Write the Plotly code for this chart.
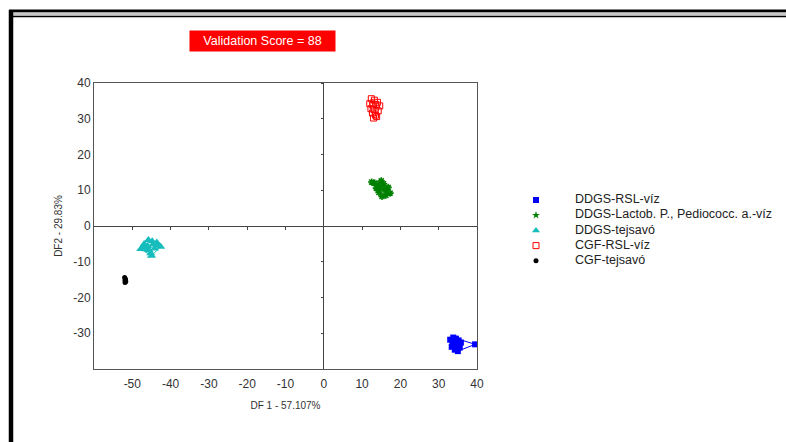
import plotly.graph_objects as go

# Discriminant scores per group
names = ["DDGS-RSL-víz", "DDGS-Lactob. P., Pediococc. a.-víz", "DDGS-tejsavó",
         "CGF-RSL-víz", "CGF-tejsavó"]

ddgs_rsl_x = [33.0, 33.8, 34.5, 35.2, 35.8, 34.0, 33.4, 34.9, 35.5, 34.2, 33.6, 35.0, 34.6, 39.5]
ddgs_rsl_y = [-31.8, -31.2, -31.5, -32.0, -32.6, -33.2, -33.8, -33.5, -34.0, -34.6, -32.5, -35.0, -32.9, -33.1]

ddgs_lact_x = [12.5, 13.3, 14.2, 15.0, 15.6, 14.6, 15.8, 16.5, 17.3, 16.2, 15.2, 14.4, 13.7, 16.8]
ddgs_lact_y = [12.3, 12.0, 11.4, 12.6, 11.8, 10.9, 10.3, 9.6, 9.2, 8.6, 8.3, 9.4, 10.6, 10.8]

ddgs_tej_x = [-47.8, -46.9, -45.8, -44.8, -43.6, -42.6, -47.2, -46.0, -44.6, -43.2, -45.6, -45.2, -45.0, -46.4, -44.2]
ddgs_tej_y = [-6.4, -5.0, -3.9, -4.3, -4.6, -5.8, -6.0, -5.6, -5.2, -5.4, -6.8, -7.6, -8.3, -6.5, -6.3]

cgf_rsl_x = [12.4, 13.2, 14.0, 12.0, 12.8, 13.6, 14.6, 12.3, 13.1, 14.2, 12.7, 13.5, 13.0, 13.8]
cgf_rsl_y = [35.6, 35.2, 34.6, 34.2, 33.8, 34.0, 33.6, 32.8, 32.6, 32.2, 31.6, 31.0, 30.2, 30.6]

cgf_tej_x = [-52.0, -51.8, -51.9, -51.7, -51.9, -51.8]
cgf_tej_y = [-14.4, -14.8, -15.2, -15.5, -15.8, -15.1]

x_ticks = [-50, -40, -30, -20, -10, 0, 10, 20, 30, 40]
y_ticks = [-30, -20, -10, 0, 10, 20, 30, 40]
x_tick_text = [str(v) for v in x_ticks]
y_tick_text = [str(v) for v in y_ticks]

groups = [
    (ddgs_rsl_x, ddgs_rsl_y, "#0000ff", dict(symbol="square", size=6, color="#0000ff")),
    (ddgs_lact_x, ddgs_lact_y, "#008000", dict(symbol="asterisk-open", size=6, color="#008000",
                                              line=dict(width=1.6, color="#008000"))),
    (ddgs_tej_x, ddgs_tej_y, "#17bdbd", dict(symbol="triangle-up", size=8, color="#17bdbd")),
    (cgf_rsl_x, cgf_rsl_y, "#ff0000", dict(symbol="square-open", size=6, color="#ff0000",
                                          line=dict(width=1, color="#ff0000"))),
    (cgf_tej_x, cgf_tej_y, "#000000", dict(symbol="circle", size=5, color="#000000")),
]
legend_markers = [
    dict(symbol="square", size=6, color="#0000ff"),
    dict(symbol="star", size=6, color="#008000"),
    dict(symbol="triangle-up", size=7, color="#17bdbd"),
    dict(symbol="square-open", size=6, color="#ff0000", line=dict(width=1, color="#ff0000")),
    dict(symbol="circle", size=5, color="#000000"),
]
legend_rows = [0, 1, 2, 3, 4]


def hull(xs, ys):
    """Convex hull (monotone chain), returned closed."""
    pts = sorted(set(zip(xs, ys)))
    if len(pts) < 3:
        return pts

    def cross(o, a, b):
        return (a[0] - o[0]) * (b[1] - o[1]) - (a[1] - o[1]) * (b[0] - o[0])

    lower, upper = [], []
    for p in pts:
        while len(lower) >= 2 and cross(lower[-2], lower[-1], p) <= 0:
            lower.pop()
        lower.append(p)
    for p in reversed(pts):
        while len(upper) >= 2 and cross(upper[-2], upper[-1], p) <= 0:
            upper.pop()
        upper.append(p)
    h = lower[:-1] + upper[:-1]
    return h + [h[0]]


# page geometry (pixels): plot box left 94, right 477, top 83, bottom 369
W, H = 786, 442
L, T, B = 94, 83, 369
R_BOX = 477
PW, PH = W - L, B - T          # paper area spans to the right page edge


def px(x):
    return (x - L) / PW


def py(y):
    return (B - y) / PH


fig = go.Figure()

# group outlines on the overlay axes (same ranges as the main axes)
for xs, ys, col, _ in groups:
    h = hull(xs, ys)
    fig.add_trace(go.Scatter(x=[p[0] for p in h], y=[p[1] for p in h], mode="lines",
                             line=dict(color=col, width=1), showlegend=False,
                             hoverinfo="skip", xaxis="x2", yaxis="y2"))

for (xs, ys, col, mk), nm in zip(groups, names):
    fig.add_trace(go.Scatter(x=xs, y=ys, mode="markers", name=nm, marker=mk, showlegend=False))

# key: one symbol and one label per row on its own axes (clipped at the page edge)
for row, mk in zip(legend_rows, legend_markers):
    fig.add_trace(go.Scatter(x=[0], y=[row], mode="markers", marker=mk, showlegend=False,
                             hoverinfo="skip", xaxis="x3", yaxis="y3"))
fig.add_trace(go.Scatter(x=[39] * len(names), y=legend_rows, mode="text", text=names,
                         textposition="middle right", cliponaxis=True, showlegend=False,
                         hoverinfo="skip", xaxis="x3", yaxis="y3",
                         textfont=dict(family="Liberation Sans, Arial, sans-serif", size=12.5,
                                       color="#222222")))

frame_shapes = [
    # window frame
    dict(type="line", xref="paper", yref="paper", x0=px(9), x1=px(790), y0=py(11), y1=py(11),
         line=dict(color="#000000", width=3)),
    dict(type="line", xref="paper", yref="paper", x0=px(12), x1=px(790), y0=py(14), y1=py(14),
         line=dict(color="#c8c8c8", width=3)),
    dict(type="line", xref="paper", yref="paper", x0=px(12), x1=px(790), y0=py(16.5), y1=py(16.5),
         line=dict(color="#000000", width=1.5)),
    dict(type="line", xref="paper", yref="paper", x0=px(11), x1=px(11), y0=py(10), y1=py(450),
         line=dict(color="#000000", width=4.5)),
]

base_font = dict(family="Liberation Sans, Arial, sans-serif", size=12, color="#333333")
box_dom = [0, px(R_BOX)]
x_zero_pos = px(L + (0 - (-60)) / 100 * (R_BOX - L))

annotations = [dict(text="Validation Score = 88", xref="paper", yref="paper",
                    x=px(262), y=py(40.5), xanchor="center", yanchor="middle", showarrow=False,
                    bgcolor="#ff0000",
                    font=dict(family="Liberation Sans, Arial, sans-serif", size=12.5, color="white"),
                    borderpad=3, width=139)]

ROW0, ROWH = 200, 15.2

fig.update_layout(
    width=W, height=H,
    margin=dict(l=L, r=0, t=T, b=H - B, autoexpand=False),
    paper_bgcolor="white", plot_bgcolor="rgba(0,0,0,0)",
    font=base_font,
    shapes=frame_shapes,
    showlegend=False,
    xaxis=dict(domain=box_dom, range=[-60, 40], tickvals=x_ticks, ticktext=x_tick_text,
               ticks="", showgrid=False, ticklabelstandoff=4,
               zeroline=True, zerolinecolor="#444444", zerolinewidth=1,
               showline=True, mirror=True, linecolor="#555555", linewidth=1,
               tickfont=base_font,
               title=dict(text="DF 1 - 57.107%", font=dict(size=10, color="#333333"), standoff=11)),
    yaxis=dict(range=[-40, 40], tickvals=y_ticks, ticktext=y_tick_text, ticks="", showgrid=False,
               zeroline=True, zerolinecolor="#444444", zerolinewidth=1,
               showline=True, mirror=True, linecolor="#555555", linewidth=1,
               tickfont=base_font,
               title=dict(text="DF2 - 29.83%", font=dict(size=10, color="#333333"), standoff=8)),
    # tick marks along the zero lines
    xaxis2=dict(domain=box_dom, range=[-60, 40], overlaying="x", anchor="free", position=0.5,
                tickvals=x_ticks, ticks="outside", ticklen=3, tickcolor="#444444",
                showticklabels=False, showline=False, showgrid=False, zeroline=False),
    yaxis2=dict(range=[-40, 40], overlaying="y", anchor="free", position=x_zero_pos, side="left",
                tickvals=y_ticks, ticks="outside", ticklen=3, tickcolor="#444444",
                showticklabels=False, showline=False, showgrid=False, zeroline=False),
    # key axes
    xaxis3=dict(domain=[px(520), 1], range=[-16, 250], anchor="y3", visible=False),
    yaxis3=dict(domain=[0, 1], anchor="x3",
                range=[(B - ROW0) / ROWH, (T - ROW0) / ROWH], visible=False),
    annotations=annotations,
)

fig.write_html("out.html")
